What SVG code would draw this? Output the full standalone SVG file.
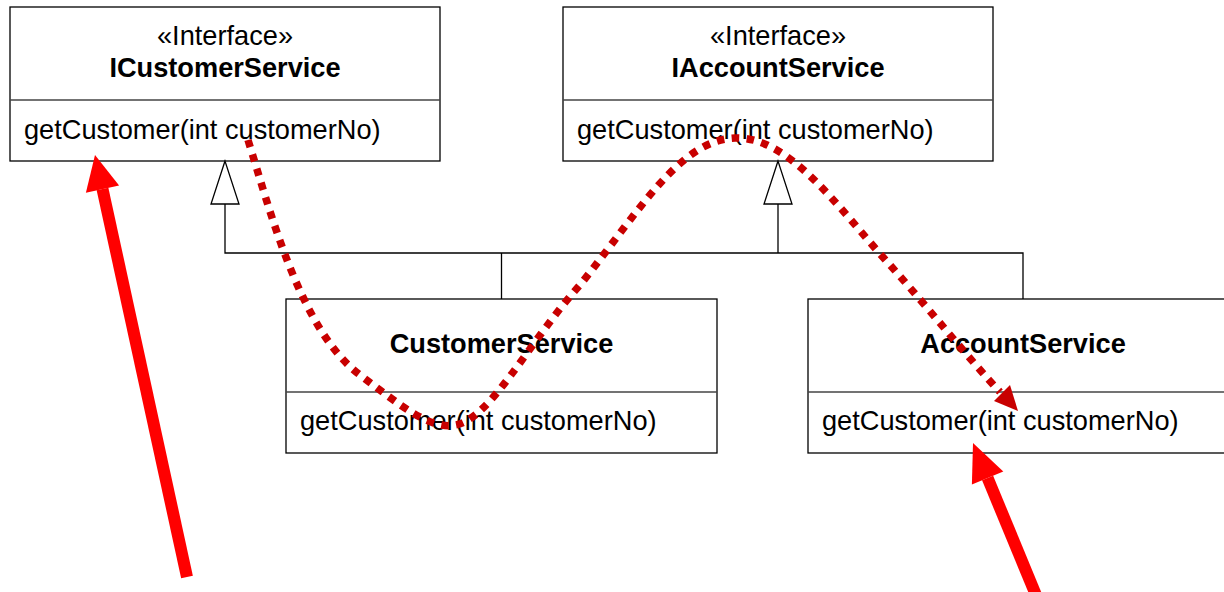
<svg xmlns="http://www.w3.org/2000/svg" width="1224" height="592" viewBox="0 0 1224 592">
  <style>
    .box { fill: #ffffff; stroke: #000000; stroke-width: 1.3; }
    .div { stroke: #444444; stroke-width: 1.3; }
    .txt { font-family: "Liberation Sans", Arial, sans-serif; font-size: 27.2px; fill: #000000; }
    .name { font-weight: bold; text-anchor: middle; }
    .stereo { text-anchor: middle; }
    .gen { fill: none; stroke: #000000; stroke-width: 1.3; }
    .head { fill: #ffffff; stroke: #000000; stroke-width: 1.3; }
    .flow { fill: none; stroke: #c80000; stroke-width: 7.5; stroke-dasharray: 7.5 7.5; }
    .pointer { stroke: #ff0000; stroke-width: 12; }
  </style>

  <rect width="1224" height="592" fill="#ffffff"/>

  <!-- interface ICustomerService -->
  <g id="ICustomerService">
    <rect class="box" x="10" y="7" width="430" height="154"/>
    <line class="div" x1="10" y1="100" x2="440" y2="100"/>
    <text class="txt stereo" x="225" y="45">«Interface»</text>
    <text class="txt name" x="225" y="77">ICustomerService</text>
    <text class="txt" x="24" y="139">getCustomer(int customerNo)</text>
  </g>

  <!-- interface IAccountService -->
  <g id="IAccountService">
    <rect class="box" x="563" y="7" width="430" height="154"/>
    <line class="div" x1="563" y1="100" x2="993" y2="100"/>
    <text class="txt stereo" x="778" y="45">«Interface»</text>
    <text class="txt name" x="778" y="77">IAccountService</text>
    <text class="txt" x="577" y="139">getCustomer(int customerNo)</text>
  </g>

  <!-- class CustomerService -->
  <g id="CustomerService">
    <rect class="box" x="286" y="299" width="431" height="154"/>
    <line class="div" x1="286" y1="392" x2="717" y2="392"/>
    <text class="txt name" x="501.5" y="353">CustomerService</text>
    <text class="txt" x="300" y="430">getCustomer(int customerNo)</text>
  </g>

  <!-- class AccountService -->
  <g id="AccountService">
    <rect class="box" x="808" y="299" width="430" height="154"/>
    <line class="div" x1="808" y1="392" x2="1238" y2="392"/>
    <text class="txt name" x="1023" y="353">AccountService</text>
    <text class="txt" x="822" y="430">getCustomer(int customerNo)</text>
  </g>

  <!-- realization tree -->
  <g id="connectors">
    <polyline class="gen" points="225,204 225,253 1023,253 1023,299"/>
    <line class="gen" x1="778" y1="204" x2="778" y2="253"/>
    <line class="gen" x1="501.5" y1="253" x2="501.5" y2="299"/>
    <polygon class="head" points="225,161 211,204 239,204"/>
    <polygon class="head" points="778,161 764,204 792,204"/>
  </g>

  <!-- call path through the implementations -->
  <g id="call-path">
    <path class="flow" d="M 248,140 C 270,210 300,330 360,375 C 400,405 430,430 455,425 C 490,420 530,340 580,285 C 640,210 680,140 735,138 C 790,136 840,210 890,265 C 930,310 970,360 1000,392"/>
    <polygon fill="#c80000" points="1018,411 994,401 1010,385"/>
  </g>

  <!-- highlight arrows -->
  <g id="pointer-left">
    <line class="pointer" x1="187" y1="577" x2="102.5" y2="189"/>
    <polygon fill="#ff0000" points="95,155 119.1,185.6 85.9,192.8"/>
  </g>
  <g id="pointer-right">
    <line class="pointer" x1="1038" y1="600" x2="987.6" y2="478"/>
    <polygon fill="#ff0000" points="973,443 1003.3,471.6 971.9,484.6"/>
  </g>
</svg>
